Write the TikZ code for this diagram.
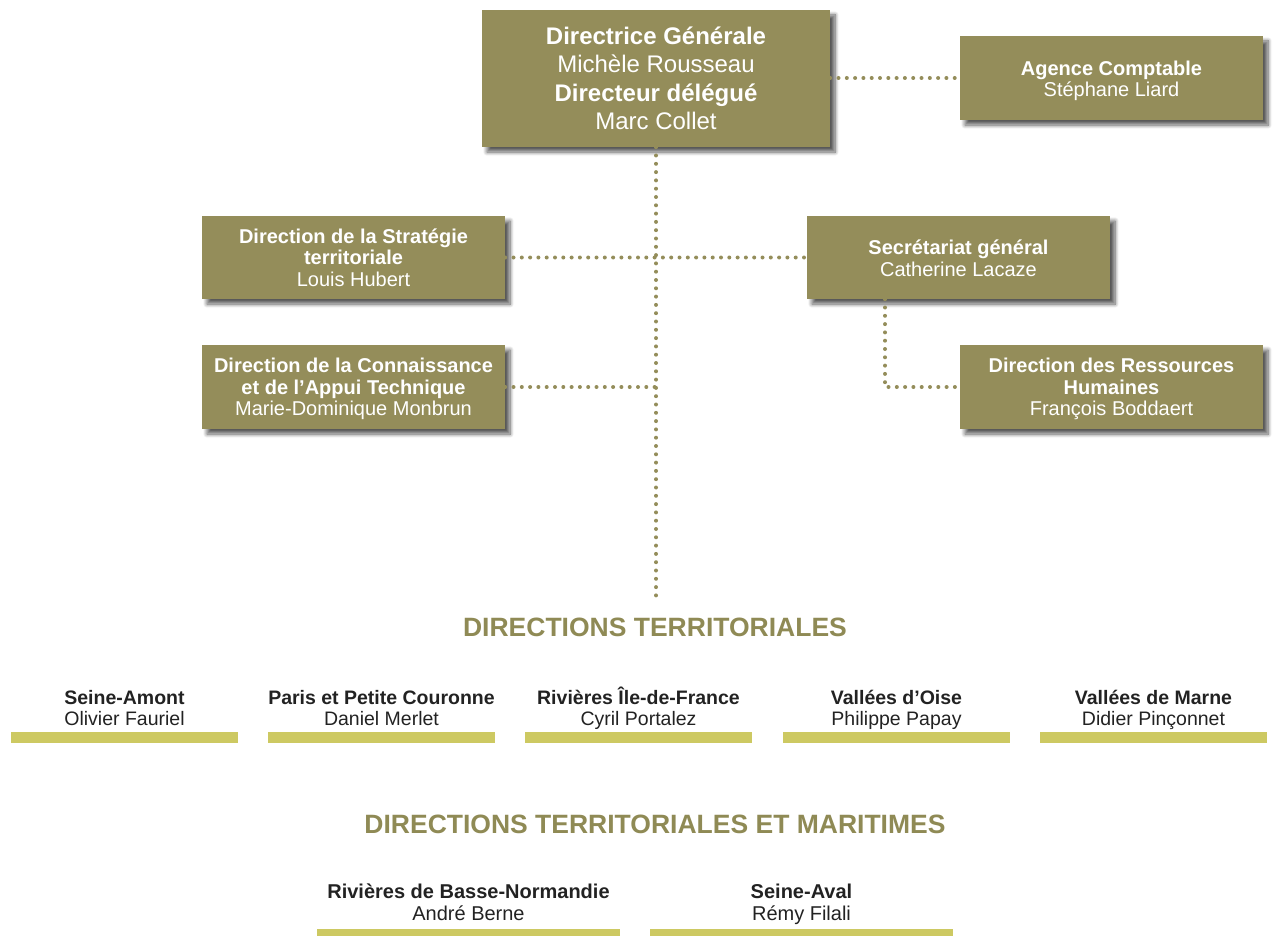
\documentclass[tikz,border=0pt]{standalone}
\usepackage{fontspec}
\setmainfont{Liberation Sans}
\usetikzlibrary{shadows.blur}
\definecolor{olive}{HTML}{948D5A}
\definecolor{titlec}{HTML}{8F8A55}
\definecolor{barc}{HTML}{CDC962}
\definecolor{txt}{HTML}{222222}
\newcommand{\topst}{\rule{0pt}{19pt}}
\newcommand{\botst}{\rule[-5pt]{0pt}{5pt}}
\tikzset{
  box/.style={rectangle, fill=olive, text=white, align=center, inner sep=0pt,
    font=\fontsize{20}{21.5}\selectfont,
    blur shadow={shadow xshift=5pt, shadow yshift=-5pt, shadow blur steps=8, shadow blur radius=4pt, shadow opacity=65}},
  link/.style={draw=olive, line width=4pt, line cap=round, dash pattern=on 0pt off 8.3pt},
  bar/.style={rectangle, fill=barc, inner sep=0pt, minimum height=11pt},
  unit/.style={align=center, text=txt, inner sep=0pt, font=\fontsize{19.5}{21}\selectfont},
  ttl/.style={text=titlec, inner sep=0pt, font=\fontsize{26.5}{30}\selectfont\bfseries}
}
\begin{document}
\begin{tikzpicture}[x=1pt,y=-1pt]
\useasboundingbox (0,0) rectangle (1274,936);
% boxes
\node[box, minimum width=348pt, minimum height=137pt, font=\fontsize{24}{28.5}\selectfont] (dg) at (656,78.5)
  {\textbf{Directrice Générale}\\Michèle Rousseau\\\textbf{Directeur délégué}\\Marc Collet};
\node[box, minimum width=303pt, minimum height=84pt] (ac) at (1111.5,78) {\rule{0pt}{20.5pt}\textbf{Agence Comptable}\\Stéphane Liard};
\node[box, minimum width=303pt, minimum height=83pt] (st) at (353.5,257.5) {\textbf{Direction de la Stratégie}\\\textbf{territoriale}\\Louis Hubert};
\node[box, minimum width=303pt, minimum height=83pt] (sg) at (958.5,257.5) {\rule{0pt}{16pt}\textbf{Secrétariat général}\\Catherine Lacaze};
\node[box, minimum width=303pt, minimum height=84pt] (co) at (353.5,387) {\rule{0pt}{19pt}\textbf{Direction de la Connaissance}\\\textbf{et de l’Appui Technique}\\Marie-Dominique Monbrun};
\node[box, minimum width=303pt, minimum height=84pt] (rh) at (1111.5,387) {\rule{0pt}{19pt}\textbf{Direction des Ressources}\\\textbf{Humaines}\\François Boddaert};
% connectors
\coordinate (vend) at (656,597);
\coordinate (k) at (885,387);
\draw[link] (dg.south) -- (vend);
\draw[link] (dg.east |- ac.west) -- (ac.west);
\draw[link] (st.east) -- (sg.west);
\draw[link] (co.east) -- (co.east -| dg.south);
\draw[link] (sg.south -| k) -- (k) -- (rh.west);
% titles
\node[ttl] (t1) at (655,627) {DIRECTIONS TERRITORIALES};
\node[ttl] (t2) at (655,824) {DIRECTIONS TERRITORIALES ET MARITIMES};
% territorial directions
\foreach \x/\n/\a/\b in {124.5/u1/Seine-Amont/Olivier Fauriel, 381.5/u2/Paris et Petite Couronne/Daniel Merlet, 638.5/u3/Rivières Île-de-France/Cyril Portalez, 896.5/u4/Vallées d’Oise/Philippe Papay, 1153.5/u5/Vallées de Marne/Didier Pinçonnet}{
  \node[unit] (\n) at (\x,708) {\topst\textbf{\a}\\\b\botst};
  \node[bar, minimum width=227pt] (\n b) at (\x,737.5) {};
}
\foreach \x/\n/\a/\b in {468.5/m1/Rivières de Basse-Normandie/André Berne, 801.5/m2/Seine-Aval/Rémy Filali}{
  \node[unit, font=\fontsize{20}{22}\selectfont] (\n) at (\x,902) {\topst\textbf{\a}\\\b\botst};
  \node[bar, minimum width=303pt, minimum height=12pt] (\n b) at (\x,935) {};
}
\end{tikzpicture}
\end{document}
